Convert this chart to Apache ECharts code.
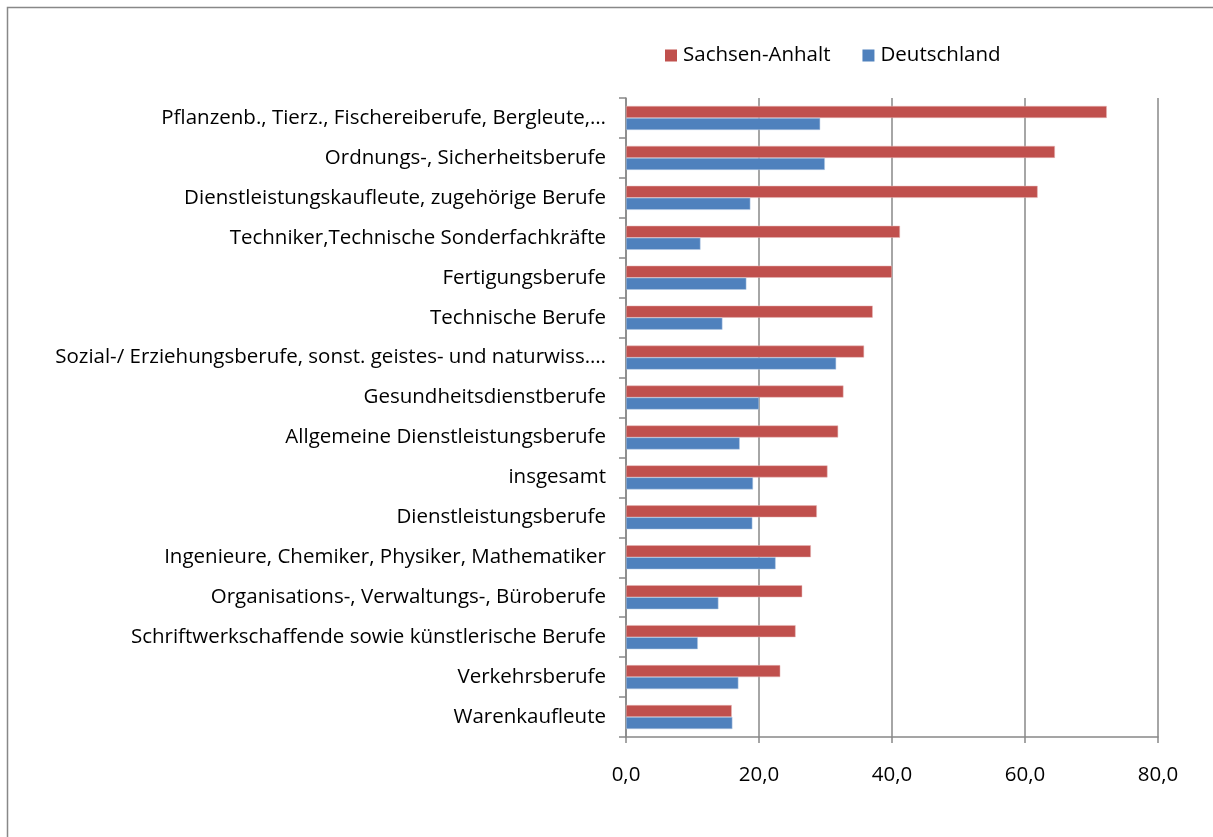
<!DOCTYPE html>
<html>
<head>
<meta charset="utf-8">
<script src="https://cdn.jsdelivr.net/npm/echarts@6/dist/echarts.min.js"></script>
<style>
  html, body { margin: 0; padding: 0; background: #fff; }
  #chart { width: 1213px; height: 837px; }
</style>
</head>
<body>
<div id="chart"></div>
<script>
'use strict';

var categories = [
    'Pflanzenb., Tierz., Fischereiberufe, Bergleute,…',
    'Ordnungs-, Sicherheitsberufe',
    'Dienstleistungskaufleute, zugehörige Berufe',
    'Techniker,Technische Sonderfachkräfte',
    'Fertigungsberufe',
    'Technische Berufe',
    'Sozial-/ Erziehungsberufe, sonst. geistes- und naturwiss.…',
    'Gesundheitsdienstberufe',
    'Allgemeine Dienstleistungsberufe',
    'insgesamt',
    'Dienstleistungsberufe',
    'Ingenieure, Chemiker, Physiker, Mathematiker',
    'Organisations-, Verwaltungs-, Büroberufe',
    'Schriftwerkschaffende sowie künstlerische Berufe',
    'Verkehrsberufe',
    'Warenkaufleute'
];
var sachsenAnhalt = [72.3, 64.5, 61.9, 41.2, 40.0, 37.1, 35.8, 32.7, 31.9, 30.3, 28.7, 27.8, 26.5, 25.5, 23.2, 15.9];
var deutschland = [29.2, 29.9, 18.7, 11.2, 18.1, 14.5, 31.6, 20.0, 17.1, 19.1, 19.0, 22.5, 13.9, 10.8, 16.9, 16.0];

var font = '"Open Sans", sans-serif';
var chart = echarts.init(document.getElementById('chart'));

chart.setOption({
    animation: false,
    textStyle: {fontFamily: font},
    graphic: [{
        type: 'rect',
        shape: {x: 7.5, y: 7.5, width: 1240, height: 860},
        style: {fill: 'none', stroke: '#888888', lineWidth: 1.5}
    }],
    legend: {
        top: 40,
        left: 660,
        itemWidth: 12,
        itemHeight: 12,
        itemGap: 32,
        icon: 'rect',
        itemStyle: {borderWidth: 0},
        textStyle: {fontSize: 20.5, color: '#000', fontFamily: font, padding: [0, 0, 0, 1]},
        data: ['Sachsen-Anhalt', 'Deutschland']
    },
    grid: {
        left: 626,
        right: 55,
        top: 98,
        bottom: 100
    },
    xAxis: {
        type: 'value',
        min: 0,
        max: 80,
        interval: 20,
        axisLine: {show: true, lineStyle: {color: '#888888', width: 1.5}},
        axisTick: {show: true, length: 6, lineStyle: {color: '#888888', width: 1.5}},
        splitLine: {show: true, lineStyle: {color: '#888888', width: 1.5}},
        axisLabel: {
            margin: 28,
            fontSize: 20.5,
            color: '#000',
            formatter: function(v) {
                return v.toFixed(1).replace('.', ',');
            }
        }
    },
    yAxis: {
        type: 'category',
        inverse: true,
        data: categories,
        axisLine: {show: true, lineStyle: {color: '#888888', width: 1.5}},
        axisTick: {show: true, length: 7, lineStyle: {color: '#888888', width: 1.5}},
        axisLabel: {margin: 20, fontSize: 20.5, color: '#000'}
    },
    series: [
        {
            name: 'Sachsen-Anhalt',
            type: 'bar',
            data: sachsenAnhalt,
            barWidth: 12,
            barGap: 0,
            itemStyle: {color: '#C0504D', borderColor: '#E6B9B8', borderWidth: 0.5}
        },
        {
            name: 'Deutschland',
            type: 'bar',
            data: deutschland,
            barWidth: 12,
            barGap: 0,
            itemStyle: {color: '#4F81BD', borderColor: '#B9CDE5', borderWidth: 0.5}
        }
    ]
});
</script>
</body>
</html>
